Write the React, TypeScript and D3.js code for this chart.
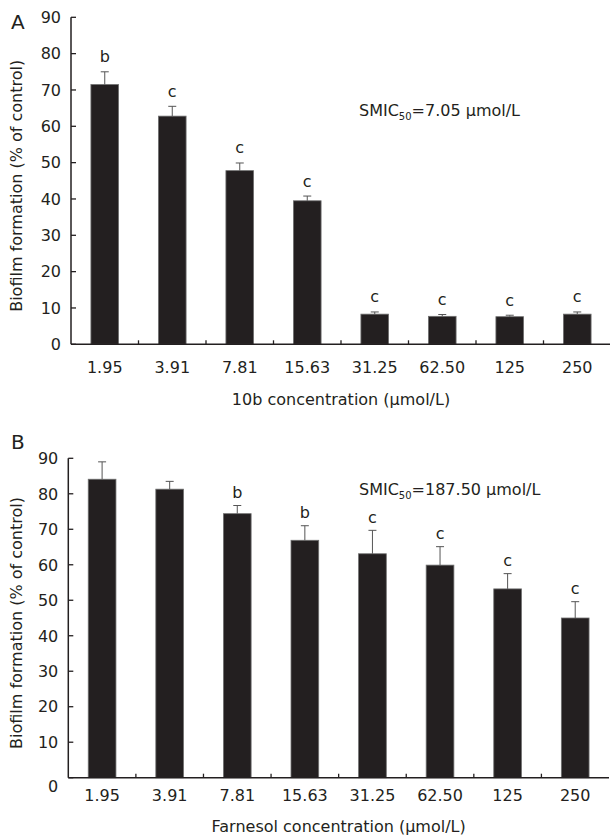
import React, { useEffect, useRef } from 'react';
import * as d3 from 'd3';

// concentrations shared by both panels
const concLabels = ['1.95', '3.91', '7.81', '15.63', '31.25', '62.50', '125', '250'];
const yTicks = [0, 10, 20, 30, 40, 50, 60, 70, 80, 90];

// Panel A: compound 10b
const aValues = [71.5, 62.8, 47.8, 39.5, 8.3, 7.7, 7.6, 8.3];
const aErrors = [3.5, 2.7, 2.1, 1.3, 0.6, 0.5, 0.4, 0.6];
const aLetters = ['b', 'c', 'c', 'c', 'c', 'c', 'c', 'c'];

// Panel B: farnesol
const bValues = [84.1, 81.3, 74.4, 66.9, 63.1, 59.9, 53.2, 45.0];
const bErrors = [4.9, 2.2, 2.3, 4.1, 6.6, 5.2, 4.3, 4.6];
const bLetters = ['', '', 'b', 'b', 'c', 'c', 'c', 'c'];

const INK = '#231f20';
const FONT = '"DejaVu Sans", sans-serif';

type Panel = {
  tag: string;
  values: number[];
  errors: number[];
  letters: string[];
  xLabel: string;
  smicValue: string;
  left: number; right: number; top: number; bottom: number;
  tagY: number; tickLabelY: number; xLabelY: number; smicY: number;
  letterGap: number; zeroDy: number;
};

const panels: Panel[] = [
  {
    tag: 'A', values: aValues, errors: aErrors, letters: aLetters,
    xLabel: '10b concentration (μmol/L)', smicValue: '=7.05 μmol/L',
    left: 71, right: 611, top: 17.3, bottom: 344.3,
    tagY: 29, tickLabelY: 373, xLabelY: 405, smicY: 116, letterGap: 9.5, zeroDy: 0,
  },
  {
    tag: 'B', values: bValues, errors: bErrors, letters: bLetters,
    xLabel: 'Farnesol concentration (μmol/L)', smicValue: '=187.50 μmol/L',
    left: 68.3, right: 609, top: 458.3, bottom: 777.7,
    tagY: 449, tickLabelY: 801, xLabelY: 832, smicY: 495, letterGap: 7.5, zeroDy: 9,
  },
];

export default function App() {
  const svgRef = useRef<SVGSVGElement>(null);

  useEffect(() => {
    if (!svgRef.current) return;
    const svg = d3.select(svgRef.current);
    svg.selectAll('*').remove();

    panels.forEach((p) => {
      const g = svg.append('g').style('font-family', FONT).attr('fill', INK);

      const x = d3.scaleBand<string>()
        .domain(concLabels)
        .range([p.left, p.right])
        .paddingInner(0.59)
        .paddingOuter(0.295);
      const step = x.step();

      const y = d3.scaleLinear().domain([0, 90]).range([p.bottom, p.top]);

      // bars
      g.selectAll('rect.bar')
        .data(p.values)
        .enter()
        .append('rect')
        .attr('class', 'bar')
        .attr('x', (d, i) => x(concLabels[i])!)
        .attr('y', d => y(d))
        .attr('width', x.bandwidth())
        .attr('height', d => y(0) - y(d))
        .attr('fill', INK)
        .attr('stroke', '#707070')
        .attr('stroke-width', 0.8);

      // error bars (upper only)
      p.values.forEach((v, i) => {
        const cx = x(concLabels[i])! + x.bandwidth() / 2;
        const top = y(v + p.errors[i]);
        g.append('line')
          .attr('x1', cx).attr('x2', cx)
          .attr('y1', y(v)).attr('y2', top)
          .attr('stroke', '#555').attr('stroke-width', 1);
        g.append('line')
          .attr('x1', cx - 4).attr('x2', cx + 4)
          .attr('y1', top).attr('y2', top)
          .attr('stroke', '#555').attr('stroke-width', 1);
        if (p.letters[i]) {
          g.append('text')
            .attr('x', cx)
            .attr('y', top - p.letterGap)
            .attr('text-anchor', 'middle')
            .style('font-size', '16px')
            .text(p.letters[i]);
        }
      });

      // axes
      g.append('line')
        .attr('x1', p.left).attr('x2', p.left)
        .attr('y1', p.top).attr('y2', p.bottom)
        .attr('stroke', INK).attr('stroke-width', 1.5);
      g.append('line')
        .attr('x1', p.left).attr('x2', p.right)
        .attr('y1', p.bottom).attr('y2', p.bottom)
        .attr('stroke', INK).attr('stroke-width', 1.5);

      yTicks.forEach((t) => {
        g.append('line')
          .attr('x1', p.left).attr('x2', p.left + 5)
          .attr('y1', y(t)).attr('y2', y(t))
          .attr('stroke', INK).attr('stroke-width', 1.3);
        g.append('text')
          .attr('x', p.left - 10)
          .attr('y', y(t) + (t === 0 ? p.zeroDy : 0))
          .attr('dy', '0.36em')
          .attr('text-anchor', 'end')
          .style('font-size', '16px')
          .text(t);
      });

      d3.range(1, concLabels.length).forEach((i) => {
        const tx = p.left + i * step;
        g.append('line')
          .attr('x1', tx).attr('x2', tx)
          .attr('y1', p.bottom).attr('y2', p.bottom - 4)
          .attr('stroke', INK).attr('stroke-width', 1.3);
      });

      g.selectAll('text.xtick')
        .data(concLabels)
        .enter()
        .append('text')
        .attr('class', 'xtick')
        .attr('x', d => x(d)! + x.bandwidth() / 2)
        .attr('y', p.tickLabelY)
        .attr('text-anchor', 'middle')
        .style('font-size', '16px')
        .text(d => d);

      // axis titles
      g.append('text')
        .attr('x', (p.left + p.right) / 2)
        .attr('y', p.xLabelY)
        .attr('text-anchor', 'middle')
        .style('font-size', '16px')
        .text(p.xLabel);

      g.append('text')
        .attr('transform', `translate(22,${(p.top + p.bottom) / 2 + 5}) rotate(-90)`)
        .attr('text-anchor', 'middle')
        .style('font-size', '16px')
        .text('Biofilm formation (% of control)');

      // panel tag
      g.append('text')
        .attr('x', 11)
        .attr('y', p.tagY)
        .style('font-size', '20px')
        .text(p.tag);

      // SMIC50 annotation
      const smic = g.append('text')
        .attr('x', 359)
        .attr('y', p.smicY)
        .style('font-size', '16px');
      smic.append('tspan').text('SMIC');
      smic.append('tspan').attr('dy', 4).style('font-size', '10px').text('50');
      smic.append('tspan').attr('dy', -4).text(p.smicValue);
    });
  }, []);

  return (
    <svg
      ref={svgRef}
      width={610}
      height={836}
      style={{ position: 'absolute', left: 0, top: 0, background: '#fff' }}
    />
  );
}
